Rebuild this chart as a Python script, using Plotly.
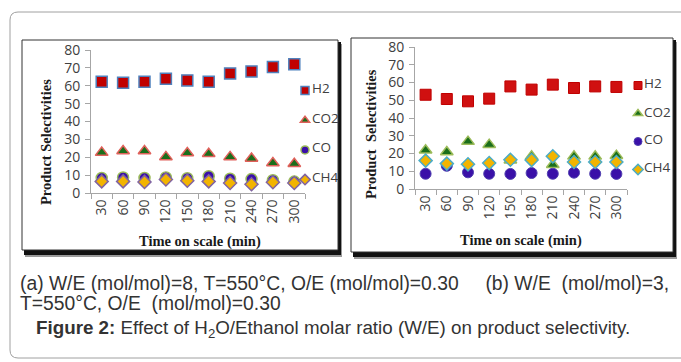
import plotly.graph_objects as go

W, H = 681, 362

times = ["30", "60", "90", "120", "150", "180", "210", "240", "270", "300"]
y_ticks = [0, 10, 20, 30, 40, 50, 60, 70, 80]

# Panel (a): W/E = 8
a_h2 = [62.2, 61.7, 62.2, 63.9, 63.0, 62.3, 66.9, 68.0, 70.5, 72.0]
a_co2 = [22.6, 23.5, 23.5, 20.2, 22.4, 22.0, 20.2, 19.3, 16.8, 16.4]
a_co = [8.4, 8.7, 8.4, 8.7, 8.3, 9.4, 8.0, 7.8, 7.2, 6.4]
a_ch4 = [6.5, 6.5, 6.2, 7.6, 6.9, 6.5, 5.6, 4.9, 6.0, 5.6]

# Panel (b): W/E = 3
b_h2 = [53.1, 50.7, 49.4, 50.9, 57.8, 56.0, 58.8, 56.9, 57.8, 57.5]
b_co2 = [21.8, 20.8, 26.7, 25.0, 16.2, 18.4, 13.7, 18.4, 18.4, 18.8]
b_co = [8.6, 13.1, 9.4, 8.6, 8.5, 9.0, 8.6, 9.2, 8.6, 8.5]
b_ch4 = [16.0, 14.3, 13.9, 14.6, 16.5, 16.3, 18.4, 15.2, 15.2, 15.2]

series_names = ["H2", "CO2", "CO", "CH4"]


def px(x):
    return x / W


def py(y):
    return 1 - y / H


fig = go.Figure()

styles_a = [
    dict(symbol="square", size=11, color="#C00000", line=dict(color="#4F81BD", width=1.5)),
    dict(symbol="triangle-up", size=11, color="#1A6E1A", line=dict(color="#E0605A", width=1.5)),
    dict(symbol="circle", size=11, color="#3A10A8", line=dict(color="#9BBB59", width=1.5)),
    dict(symbol="diamond", size=10, color="#F2B400", line=dict(color="#8064A2", width=1.5)),
]
styles_b = [
    dict(symbol="square", size=11, color="#D01010", line=dict(color="#C00000", width=1)),
    dict(symbol="triangle-up", size=11, color="#1A6E1A", line=dict(color="#9BBB59", width=1.5)),
    dict(symbol="circle", size=11, color="#3A10A8", line=dict(color="#5040B0", width=1)),
    dict(symbol="diamond", size=10, color="#F2B400", line=dict(color="#4BACC6", width=1.5)),
]

for i, (name, ys, st) in enumerate(zip(series_names, [a_h2, a_co2, a_co, a_ch4], styles_a)):
    fig.add_trace(go.Scatter(x=times, y=ys, mode="markers", marker=st, name=name,
                             showlegend=False, xaxis="x", yaxis="y"))
for i, (name, ys, st) in enumerate(zip(series_names, [b_h2, b_co2, b_co, b_ch4], styles_b)):
    fig.add_trace(go.Scatter(x=times, y=ys, mode="markers", marker=st, name=name,
                             showlegend=False, xaxis="x2", yaxis="y2"))

# legend keys (smaller symbols, as in the reference)
for i, (name, st) in enumerate(zip(series_names, styles_a)):
    s = dict(st, size=8)
    fig.add_trace(go.Scatter(x=[None], y=[None], mode="markers", marker=s, name=name,
                             legend="legend", legendgroup="a" + str(i), xaxis="x", yaxis="y"))
for i, (name, st) in enumerate(zip(series_names, styles_b)):
    s = dict(st, size=8)
    fig.add_trace(go.Scatter(x=[None], y=[None], mode="markers", marker=s, name=name,
                             legend="legend2", legendgroup="b" + str(i), xaxis="x2", yaxis="y2"))

tick_font = dict(family="Open Sans", size=14, color="#404040")
axis_common = dict(showline=True, linecolor="#A6A6A6", linewidth=1, ticks="outside",
                   ticklen=5, tickcolor="#A6A6A6", showgrid=False, zeroline=False,
                   tickfont=tick_font, automargin=False)
# legend label text is shown via annotations placed tight to the keys
leg_font = dict(family="Open Sans", size=1, color="rgba(0,0,0,0)")

fig.update_layout(
    width=W, height=H, margin=dict(l=0, r=0, t=0, b=0, pad=0, autoexpand=False),
    paper_bgcolor="white", plot_bgcolor="rgba(0,0,0,0)",
    xaxis=dict(domain=[px(91), px(305)], anchor="y", type="category",
               categoryorder="array", categoryarray=times, tickson="boundaries",
               tickangle=-90, range=[-0.5, 9.5], **axis_common),
    yaxis=dict(domain=[py(193), py(50)], anchor="x", range=[0, 80], tickvals=y_ticks,
               ticklabelstandoff=2, **axis_common),
    xaxis2=dict(domain=[px(415), px(627)], anchor="y2", type="category",
                categoryorder="array", categoryarray=times, tickson="boundaries",
                tickangle=-90, range=[-0.5, 9.5], **axis_common),
    yaxis2=dict(domain=[py(189), py(47)], anchor="x2", range=[0, 80], tickvals=y_ticks,
                ticklabelstandoff=2, **axis_common),
    legend=dict(x=px(285), y=py(76), xanchor="left", yanchor="top", itemwidth=30,
                tracegroupgap=10.7, bgcolor="rgba(0,0,0,0)", font=leg_font),
    legend2=dict(x=px(618), y=py(71), xanchor="left", yanchor="top", itemwidth=30,
                 tracegroupgap=9, bgcolor="rgba(0,0,0,0)", font=leg_font),
)

shapes = []
# outer rounded frame
r = 8
x0, y0, x1, y1 = px(10), py(12), px(700), py(358)
rx, ry = r / W, r / H
path = (f"M {x0+rx},{y0} L {x1},{y0} L {x1},{y1} L {x0+rx},{y1} "
        f"Q {x0},{y1} {x0},{y1+ry} L {x0},{y0-ry} Q {x0},{y0} {x0+rx},{y0} Z")
shapes.append(dict(type="path", path=path, xref="paper", yref="paper",
                   line=dict(color="#A0A0A0", width=1), fillcolor="rgba(0,0,0,0)", layer="below"))


def panel(bx0, by0, bx1, by1):
    out = []
    out.append(dict(type="rect", xref="paper", yref="paper",
                    x0=px(bx0 + 3), x1=px(bx1 + 4), y0=py(by0 + 4), y1=py(by1 + 7),
                    fillcolor="#9A9A9A", line=dict(width=0), layer="below"))
    out.append(dict(type="rect", xref="paper", yref="paper",
                    x0=px(bx0 + 2), x1=px(bx1 + 3), y0=py(by0 + 2), y1=py(by1 + 5),
                    fillcolor="#111111", line=dict(width=0), layer="below"))
    out.append(dict(type="rect", xref="paper", yref="paper",
                    x0=px(bx0), x1=px(bx1), y0=py(by0), y1=py(by1),
                    fillcolor="white", line=dict(color="#333333", width=1), layer="below"))
    return out


shapes += panel(22, 40, 338, 250)
shapes += panel(351, 38, 673, 252)
fig.update_layout(shapes=shapes)


def text(t, x, y, font, xanchor="center", angle=0):
    return dict(text=t, x=px(x), y=py(y), xanchor=xanchor, yanchor="middle", textangle=angle,
                showarrow=False, xref="paper", yref="paper", font=font)


title_font = dict(family="Liberation Serif", size=14.5, color="#1a1a1a")
ann = [
    text("<b>Product Selectivities</b>", 46, 142, title_font, angle=-90),
    text("<b>Time on scale (min)</b>", 200, 242, title_font),
    text("<b>Product&nbsp;&nbsp;Selectivities</b>", 371, 134, title_font, angle=-90),
    text("<b>Time on scale (min)</b>", 521, 240, title_font),
]
lab_font = dict(family="Open Sans", size=13.5, color="#404040")
for name, yy in zip(series_names, [88, 118, 147, 177]):
    ann.append(text(name, 310, yy, lab_font, xanchor="left"))
for name, yy in zip(series_names, [83, 112, 139, 167]):
    ann.append(text(name, 642, yy, lab_font, xanchor="left"))

cap_font = dict(family="Liberation Sans", size=19.3, color="#333333")
fig_font = dict(family="Liberation Sans", size=18.8, color="#333333")
ann += [
    text("(a) W/E (mol/mol)=8, T=550°C, O/E (mol/mol)=0.30&nbsp;&nbsp;&nbsp;&nbsp;&nbsp;(b) W/E&nbsp; (mol/mol)=3,",
         18, 283, cap_font, xanchor="left"),
    text("T=550°C, O/E&nbsp;&nbsp;(mol/mol)=0.30", 18, 303, cap_font, xanchor="left"),
    text("<b>Figure 2:</b> Effect of H<sub>2</sub>O/Ethanol molar ratio (W/E) on product selectivity.",
         333, 329, fig_font),
]
fig.update_layout(annotations=ann)

fig.write_html("out.html")
